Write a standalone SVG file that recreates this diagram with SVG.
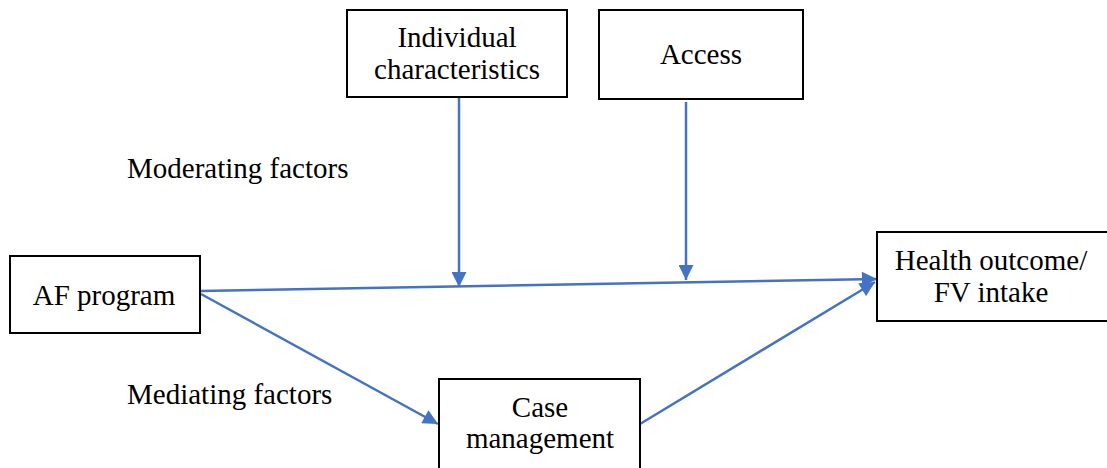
<svg xmlns="http://www.w3.org/2000/svg" width="1107" height="468" viewBox="0 0 1107 468">
<style>
.box{fill:#fff;stroke:#000;stroke-width:2}
.t{font-family:"Liberation Serif","Times New Roman",serif;font-size:29px;fill:#000}
.c{text-anchor:middle}
.ln{stroke:#4472C4;stroke-width:2.5;fill:none}
</style>
<defs>
<marker id="ah" viewBox="0 0 10 10" refX="10" refY="5" markerWidth="6.5" markerHeight="6" orient="auto" markerUnits="strokeWidth">
<path d="M0,0 L10,5 L0,10 Z" fill="#4472C4"/>
</marker>
</defs>
<rect width="1107" height="468" fill="#fff"/>
<g id="connectors">
<line class="ln" x1="459" y1="97" x2="459" y2="287" marker-end="url(#ah)"/>
<line class="ln" x1="686" y1="102" x2="686" y2="280" marker-end="url(#ah)"/>
<line class="ln" x1="200" y1="291" x2="877" y2="279" marker-end="url(#ah)"/>
<line class="ln" x1="201" y1="294" x2="438" y2="424" marker-end="url(#ah)"/>
<line class="ln" x1="640" y1="424" x2="875" y2="282" marker-end="url(#ah)"/>
</g>
<g id="individual">
<rect class="box" x="347" y="10" width="220" height="87"/>
<text class="t c" x="457" y="47">Individual</text>
<text class="t c" x="457" y="79">characteristics</text>
</g>
<g id="access">
<rect class="box" x="599" y="10" width="204" height="89"/>
<text class="t c" x="701" y="64">Access</text>
</g>
<g id="af">
<rect class="box" x="10" y="256" width="190" height="77"/>
<text class="t c" x="104" y="305">AF program</text>
</g>
<g id="health">
<rect class="box" x="877" y="232" width="232" height="89"/>
<text class="t c" x="991" y="270">Health outcome/</text>
<text class="t c" x="991" y="302">FV intake</text>
</g>
<g id="case">
<rect class="box" x="439" y="379" width="201" height="100"/>
<text class="t c" x="540" y="417">Case</text>
<text class="t c" x="540" y="448">management</text>
</g>
<g id="labels">
<text class="t" x="127" y="178">Moderating factors</text>
<text class="t" x="127" y="404">Mediating factors</text>
</g>
</svg>
